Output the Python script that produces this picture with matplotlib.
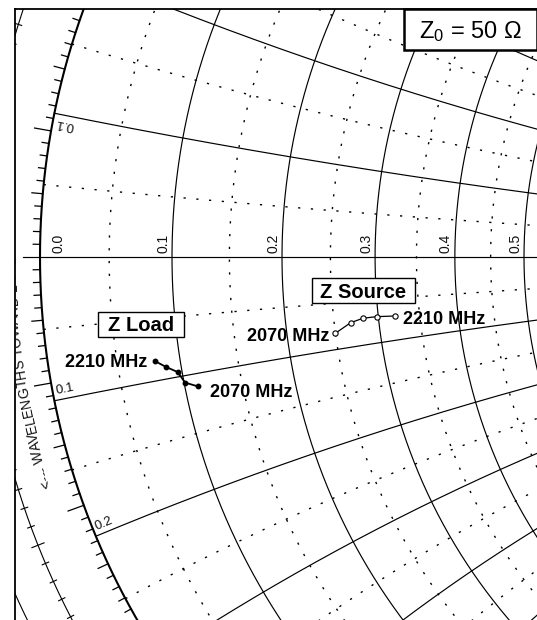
import numpy as np
import matplotlib
matplotlib.use("Agg")
import matplotlib.pyplot as plt
from matplotlib.patches import Rectangle
from matplotlib.font_manager import FontProperties

plt.rcParams['font.family'] = ['Liberation Sans', 'DejaVu Sans']
plt.rcParams['mathtext.fontset'] = 'custom'
plt.rcParams['mathtext.rm'] = 'Liberation Sans'
plt.rcParams['mathtext.it'] = 'Liberation Sans:italic'
plt.rcParams['mathtext.bf'] = 'Liberation Sans:bold'

# ---------------- data ----------------
Z0_OHM = 50.0
freq_mhz = [2070, 2105, 2140, 2175, 2210]
load_r_ohm = [5.54, 5.04, 4.82, 4.38, 3.97]
load_x_ohm = [-5.55, -5.29, -4.80, -4.51, -4.20]
source_r_ohm = [12.5, 13.4, 14.1, 14.9, 16.0]
source_x_ohm = [-4.12, -3.65, -3.48, -3.47, -3.55]

r_major = [0.1, 0.2, 0.3, 0.4, 0.5, 0.6, 0.7, 0.8, 0.9, 1.0]
r_minor = [0.05, 0.15, 0.25, 0.35, 0.45, 0.55, 0.65]
x_major = [0.1, 0.2, 0.3, 0.4, 0.5, 0.6, 0.7, 0.8, 0.9, 1.0]
x_minor = [0.05, 0.15, 0.25, 0.35, 0.45, 0.55, 0.65]
r_axis_labels = [0.0, 0.1, 0.2, 0.3, 0.4, 0.5]
x_edge_labels = [0.1, 0.2]
wavelength_title = "<--- WAVELENGTHS TOWARD LOAD <---"
z0_label = r"Z$_\mathregular{0}$ = 50 Ω"

# ---------------- figure geometry ----------------
W, H, DPI = 537, 620, 100
R_PX, CX_PX, CY_PX = 726.0, 766.0, 257.0          # chart radius / centre (image px)
AX_L, AX_T, AX_R, AX_B = 14.5, 8.8, 548.0, 632.0   # frame (right/bottom outside image)

fig = plt.figure(figsize=(W / DPI, H / DPI), dpi=DPI)
ax = fig.add_axes([AX_L / W, 1 - AX_B / H, (AX_R - AX_L) / W, (AX_B - AX_T) / H])
ax.set_xlim((AX_L - CX_PX) / R_PX, (AX_R - CX_PX) / R_PX)
ax.set_ylim((CY_PX - AX_B) / R_PX, (CY_PX - AX_T) / R_PX)
ax.set_xticks([])
ax.set_yticks([])
for sp in ax.spines.values():
    sp.set_linewidth(1.3)
    sp.set_color('black')

PPU = ax.transData.transform((1, 0))[0] - ax.transData.transform((0, 0))[0]
renderer = fig.canvas.get_renderer()
inv = ax.transData.inverted()
XL, YL = ax.get_xlim(), ax.get_ylim()


def gamma(z):
    return (z - 1) / (z + 1)


K = 'black'
DOT = (0, (1.6, 7.6))
DOT_LW = 1.0
t = np.linspace(0, 2 * np.pi, 4000)
rr = np.concatenate([[0.0], np.geomspace(1e-4, 300, 6000)])

# constant-resistance circles
for r in r_major:
    c, rad = r / (1 + r), 1 / (1 + r)
    ax.plot(c + rad * np.cos(t), rad * np.sin(t), color=K, lw=0.85, zorder=2)
for r in r_minor:
    c, rad = r / (1 + r), 1 / (1 + r)
    ax.plot(c + rad * np.cos(t), rad * np.sin(t), color=K, lw=DOT_LW, ls=DOT, zorder=1)

# constant-reactance arcs
for x in x_major:
    for s in (1, -1):
        g = gamma(rr + 1j * s * x)
        ax.plot(g.real, g.imag, color=K, lw=0.85, zorder=2)
for x in x_minor:
    for s in (1, -1):
        g = gamma(rr + 1j * s * x)
        ax.plot(g.real, g.imag, color=K, lw=DOT_LW, ls=DOT, zorder=1)

# outer circle, real axis
ax.plot(np.cos(t), np.sin(t), color=K, lw=1.5, zorder=3)
ax.plot([-1.024, 1.0], [0, 0], color=K, lw=0.85, zorder=2)

# degree ticks on the unit circle
for deg in range(-40, 41):
    if deg == 0:
        continue
    a = np.deg2rad(180 + deg)
    L = 0.023 if deg % 10 == 0 else (0.015 if deg % 5 == 0 else 0.0095)
    ax.plot([np.cos(a), (1 + L) * np.cos(a)], [np.sin(a), (1 + L) * np.sin(a)],
            color=K, lw=0.9, zorder=3)

# wavelength scale rings
RING1 = 783.0 / R_PX
RING2 = 823.0 / R_PX
ax.plot(RING1 * np.cos(t), RING1 * np.sin(t), color=K, lw=0.8, zorder=2)
ax.plot(RING2 * np.cos(t), RING2 * np.sin(t), color=K, lw=0.8, zorder=2)
for k in range(-40, 41):
    a = np.deg2rad(180 + k * 1.44)     # 0.002 wavelength steps
    L = 0.009 if k % 5 == 0 else 0.0048
    ax.plot([(RING1 - L) * np.cos(a), (RING1 + L) * np.cos(a)],
            [(RING1 - L) * np.sin(a), (RING1 + L) * np.sin(a)], color=K, lw=0.8, zorder=2)

# curved "WAVELENGTHS TOWARD LOAD" text
fp_wl = FontProperties(family=['Liberation Sans', 'DejaVu Sans'], size=10)
w_ref = renderer.get_text_width_height_descent('l', fp_wl, ismath=False)[0]


def adv(s):
    if not s:
        return 0.0
    return renderer.get_text_width_height_descent(s + 'l', fp_wl, ismath=False)[0] - w_ref


R_TXT = 750.0 / R_PX
phi0 = np.deg2rad(197.8)
for i, ch in enumerate(wavelength_title):
    if ch == ' ':
        continue
    cpx = 0.5 * (adv(wavelength_title[:i]) + adv(wavelength_title[:i + 1]))
    phi = phi0 - cpx / (R_TXT * PPU)
    px_, py_ = R_TXT * np.cos(phi), R_TXT * np.sin(phi)
    if not (YL[0] < py_ < YL[1]) or px_ < XL[0] - 0.02:
        continue
    ax.text(px_, py_, ch, fontproperties=fp_wl,
            rotation=np.degrees(phi) - 90, rotation_mode='anchor', ha='center',
            va='baseline', clip_on=True, zorder=3, color='#111111')

# resistance labels along the real axis
for r in r_axis_labels:
    gx = (r - 1) / (r + 1)
    dx_px = 18 if r == 0 else -9
    ax.text(gx + dx_px / PPU, 4 / PPU, f"{r:.1f}", rotation=90, ha='center', va='bottom',
            fontsize=10, color='#111111', zorder=3, clip_on=True)

# reactance labels at the rim
for x in x_edge_labels:
    for s in (-1, 1):
        xs = s * x
        P = gamma(1j * xs)
        if not (YL[0] < P.imag < YL[1]):
            continue
        th = -2 * np.arctan(xs)
        u = np.array([np.cos(th), np.sin(th)])
        if s < 0:
            n = np.array([-u[1], u[0]])
            rot, ha = np.degrees(th), 'left'
        else:
            n = np.array([u[1], -u[0]])
            rot, ha = 180 + np.degrees(th), 'right'
        pos = np.array([P.real, P.imag]) + (3 * u + 6.0 * n) / PPU
        ax.text(pos[0], pos[1], f"{x:.1f}", rotation=rot, rotation_mode='anchor', ha=ha,
                va='baseline', fontsize=9.5, color='#111111', zorder=3, clip_on=True)

# ---------------- measured impedances ----------------
gL = gamma((np.array(load_r_ohm) + 1j * np.array(load_x_ohm)) / Z0_OHM)
gS = gamma((np.array(source_r_ohm) + 1j * np.array(source_x_ohm)) / Z0_OHM)
ax.plot(gL.real, gL.imag, '-o', color=K, lw=1.3, ms=3.2, zorder=6)
ax.plot(gS.real, gS.imag, '-o', color=K, lw=0.9, ms=3.8, mfc='white', mew=0.8, zorder=6)

i_lo = freq_mhz.index(min(freq_mhz))
i_hi = freq_mhz.index(max(freq_mhz))
fkw = dict(fontsize=13, fontweight='bold', textcoords='offset pixels', va='baseline', zorder=7)
ax.annotate(f"{freq_mhz[i_hi]} MHz", xy=(gL.real[i_hi], gL.imag[i_hi]), xytext=(-8, -6.3), ha='right', **fkw)
ax.annotate(f"{freq_mhz[i_lo]} MHz", xy=(gL.real[i_lo], gL.imag[i_lo]), xytext=(12, -11), ha='left', **fkw)
ax.annotate(f"{freq_mhz[i_lo]} MHz", xy=(gS.real[i_lo], gS.imag[i_lo]), xytext=(-6, -7.4), ha='right', **fkw)
ax.annotate(f"{freq_mhz[i_hi]} MHz", xy=(gS.real[i_hi], gS.imag[i_hi]), xytext=(8.3, -8), ha='left', **fkw)


def boxed_label(disp, s, fs, weight, padx, box_h, lw):
    """disp: display coords of box centre (= text cap centre)."""
    cap = 0.716 * fs * DPI / 72.0
    tx, ty = inv.transform((disp[0], disp[1] - cap / 2))
    txt = ax.text(tx, ty, s, ha='center', va='baseline', fontsize=fs, fontweight=weight,
                  zorder=9, clip_on=False)
    ext = txt.get_window_extent(renderer)
    x0, y0 = inv.transform((ext.x0 - padx, disp[1] - box_h / 2))
    x1, y1 = inv.transform((ext.x1 + padx, disp[1] + box_h / 2))
    ax.add_patch(Rectangle((x0, y0), x1 - x0, y1 - y0, facecolor='white', edgecolor='black',
                           lw=lw, zorder=8, clip_on=False))


dL = ax.transData.transform((gL.real[i_hi], gL.imag[i_hi])) + np.array([-14, 36.8])
boxed_label(dL, "Z Load", 14.5, 'bold', 10, 25, 1.0)
dS = ax.transData.transform((gS.real[i_lo], gS.imag[i_lo])) + np.array([28, 42.5])
boxed_label(dS, "Z Source", 14.5, 'bold', 8.5, 25, 1.0)
boxed_label((470.3, H - 29.7), z0_label, 17, 'normal', 14.8, 40.7, 1.8)

fig.savefig("out.png", dpi=DPI)
